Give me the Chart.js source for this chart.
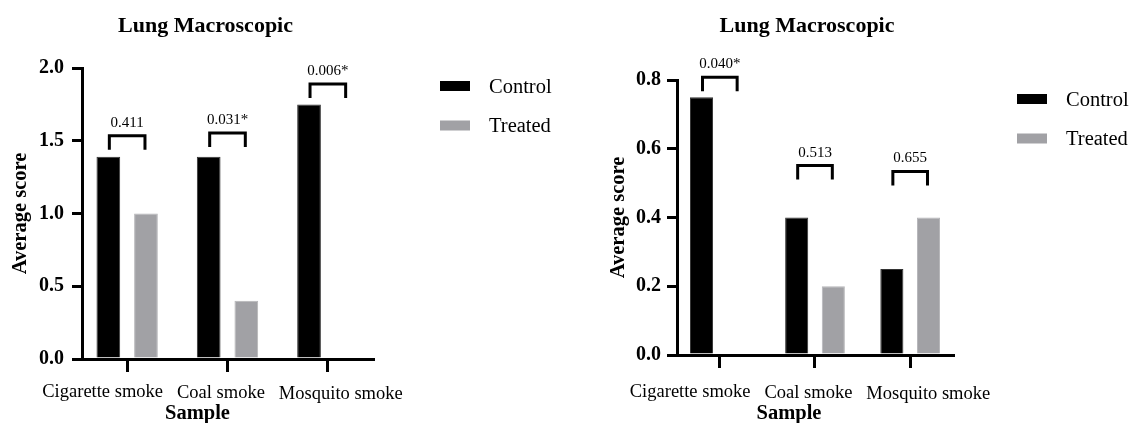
<!DOCTYPE html>
<html><head><meta charset="utf-8">
<script src="https://cdn.jsdelivr.net/npm/chart.js@4"></script>
<style>
html,body{margin:0;padding:0;background:#fff;}
#wrap{position:relative;width:1134px;height:423px;background:#fff;}
.c{position:absolute;top:0;width:567px;height:423px;}
</style></head><body>
<div id="wrap">
<div class="c" style="left:0"><canvas id="c1" width="567" height="423"></canvas></div>
<div class="c" style="left:567px"><canvas id="c2" width="567" height="423"></canvas></div>
</div>
<script>
// ---- data ----
const categories = ['Cigarette smoke', 'Coal smoke', 'Mosquito smoke'];
const seriesNames = ['Control', 'Treated'];
const chartTitle = 'Lung Macroscopic';
const xTitle = 'Sample';
const yTitle = 'Average score';

const leftControl = [1.39, 1.39, 1.75];
const leftTreated = [1.0, 0.4, 0];
const leftPValues = ['0.411', '0.031*', '0.006*'];
const leftBracketLevel = [1.535, 1.553, 1.89];
const leftYTicks = [0, 0.5, 1.0, 1.5, 2.0];

const rightControl = [0.75, 0.4, 0.25];
const rightTreated = [0, 0.2, 0.4];
const rightPValues = ['0.040*', '0.513', '0.655'];
const rightBracketLevel = [0.808, 0.551, 0.534];
const rightYTicks = [0, 0.2, 0.4, 0.6, 0.8];

const colors = ['#000000', '#a1a1a5'];
const SERIF = '"Liberation Serif", serif';

const decor = {
  id: 'decor',
  afterDraw(chart, args, o) {
    const ctx = chart.ctx, ca = chart.chartArea, ys = chart.scales.y;
    ctx.save();
    ctx.fillStyle = '#000';
    ctx.strokeStyle = '#000';
    // title
    ctx.font = 'bold 22px ' + SERIF;
    ctx.textAlign = 'center';
    ctx.textBaseline = 'middle';
    ctx.fillText(o.title, (ca.left + ca.right) / 2 + o.titleDx, o.titleY);
    // x category labels packed side by side
    ctx.font = '18.5px ' + SERIF;
    const widths = o.labels.map(l => ctx.measureText(l).width);
    const gap = 14;
    const total = widths.reduce((a, b) => a + b, 0) + gap * (widths.length - 1);
    let x0 = (ca.left - 10 + ca.right) / 2 - total / 2;
    ctx.textAlign = 'left';
    o.labels.forEach((l, i) => {
      ctx.fillText(l, x0, o.labelY + i * 1);
      x0 += widths[i] + gap;
    });
    // x title
    ctx.font = 'bold 20.5px ' + SERIF;
    ctx.textAlign = 'center';
    ctx.fillText(o.xTitle, (ca.left + ca.right) / 2 + o.xTitleDx, o.xTitleY);
    // legend
    ctx.font = '20.5px ' + SERIF;
    ctx.textAlign = 'left';
    chart.data.datasets.forEach((ds, i) => {
      const lx = ca.right + o.legendDx, ly = ca.top + o.legendDy + i * 39.5;
      ctx.fillStyle = ds.backgroundColor;
      ctx.fillRect(lx, ly - 5, 30, 10);
      ctx.fillStyle = '#000';
      ctx.fillText(ds.label, lx + 49, ly + 1.5);
    });
    // brackets
    const m0 = chart.getDatasetMeta(0), m1 = chart.getDatasetMeta(1);
    ctx.lineWidth = 3;
    ctx.lineJoin = 'miter';
    ctx.font = '15px ' + SERIF;
    ctx.textAlign = 'center';
    o.pValues.forEach((p, i) => {
      const x1 = m0.data[i].x + 1, x2 = m1.data[i].x - 1;
      const yt = ys.getPixelForValue(o.levels[i]);
      ctx.beginPath();
      ctx.moveTo(x1, yt + 14);
      ctx.lineTo(x1, yt);
      ctx.lineTo(x2, yt);
      ctx.lineTo(x2, yt + 14);
      ctx.stroke();
      ctx.fillText(p, (x1 + x2) / 2, yt - 13);
    });
    ctx.restore();
  }
};

function makeChart(id, control, treated, yTicks, pValues, levels, lay) {
  const pts = arr => arr.map((v, i) => ({ x: i, y: v }));
  return new Chart(document.getElementById(id), {
    type: 'bar',
    data: {
      labels: categories,
      datasets: [
        { label: seriesNames[0], data: pts(control), backgroundColor: colors[0], borderColor: '#333', borderWidth: 1 },
        { label: seriesNames[1], data: pts(treated), backgroundColor: colors[1], borderColor: '#b5b5b8', borderWidth: 1 }
      ]
    },
    options: {
      responsive: false,
      animation: false,
      devicePixelRatio: 1,
      layout: { padding: { left: lay.padLeft, right: lay.padRight, top: lay.padTop, bottom: 0 } },
      datasets: { bar: { categoryPercentage: lay.catPct, barPercentage: 0.63 } },
      plugins: {
        legend: { display: false },
        tooltip: { enabled: false },
        decor: {
          title: chartTitle, titleDx: lay.titleDx, titleY: 26,
          labels: categories, labelY: 392,
          xTitle: xTitle, xTitleDx: lay.xTitleDx, xTitleY: 414,
          legendDx: lay.legendDx, legendDy: lay.legendDy,
          pValues: pValues, levels: levels
        }
      },
      scales: {
        x: {
          type: 'linear',
          offset: false,
          min: -0.45,
          max: categories.length - 1 + 0.45,
          afterBuildTicks(s) { s.ticks = categories.map((c, i) => ({ value: i })); },
          grid: { offset: false, drawOnChartArea: false, drawTicks: true, tickLength: 13, lineWidth: 3, color: '#000' },
          border: { display: true, width: 3, color: '#000' },
          ticks: { display: false },
          afterFit(s) { s.height = lay.xHeight; }
        },
        y: {
          min: yTicks[0],
          max: yTicks[yTicks.length - 1],
          afterBuildTicks(s) { s.ticks = yTicks.map(v => ({ value: v })); },
          grid: { drawOnChartArea: false, drawTicks: true, tickLength: 10, lineWidth: 3, color: '#000' },
          border: { display: true, width: 3, color: '#000' },
          ticks: {
            padding: lay.tickPad,
            color: '#000',
            font: { family: SERIF, size: 20, weight: 'bold' },
            callback: v => Number(v).toFixed(1)
          },
          title: {
            display: true, text: yTitle, color: '#000',
            font: { family: SERIF, size: 20.5, weight: 'bold', lineHeight: 1.2 },
            padding: 0
          },
          afterFit(s) { s.width = lay.yWidth; }
        }
      }
    },
    plugins: [decor]
  });
}

makeChart('c1', leftControl, leftTreated, leftYTicks, leftPValues, leftBracketLevel, {
  padLeft: 8, yWidth: 74, padRight: 194, padTop: 68, xHeight: 64, tickPad: 8, catPct: 0.75,
  titleDx: -22, xTitleDx: -30, legendDx: 67, legendDy: 18
});
makeChart('c2', rightControl, rightTreated, rightYTicks, rightPValues, rightBracketLevel, {
  padLeft: 39, yWidth: 71, padRight: 181, padTop: 80, xHeight: 68, tickPad: 6, catPct: 0.77,
  titleDx: -8, xTitleDx: -26, legendDx: 64, legendDy: 19
});
</script>
</body></html>
